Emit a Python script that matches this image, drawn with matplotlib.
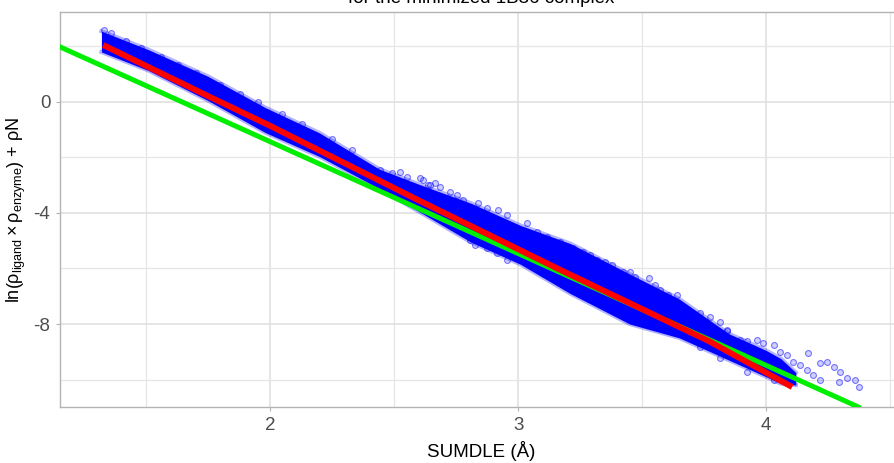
import matplotlib

matplotlib.use("Agg")
import matplotlib.pyplot as plt
from matplotlib.ticker import MultipleLocator

# dense core of the point cloud (upper / lower edge along SUMDLE)
band_x = [1.32, 1.51, 1.75, 1.98, 2.20, 2.44, 2.61, 2.81, 3.01, 3.21, 3.45, 3.65, 3.85, 4.00, 4.06, 4.12]
band_hi = [2.55, 1.88, 0.92, -0.20, -1.12, -2.42, -3.00, -3.65, -4.45, -5.10, -6.20, -7.10, -8.35, -8.95, -9.25, -9.75]
band_lo = [1.80, 1.13, 0.05, -1.10, -1.97, -3.12, -4.00, -5.05, -5.85, -6.90, -8.00, -8.50, -9.30, -9.90, -10.15, -10.20]

# sparse points around the edges of the cloud
pts_x = [
    2.444, 2.491, 2.524, 2.551, 2.605, 2.638, 2.665,
    2.618, 2.645, 2.685, 2.726, 2.753, 2.779, 2.840, 2.874, 2.921, 2.954,
    3.035, 3.075, 3.116, 3.169, 3.223, 3.263, 3.304,
    2.806, 2.827, 2.874, 2.914, 2.954,
    3.290, 3.317, 3.351, 3.378, 3.425, 3.452, 3.472, 3.526, 3.552, 3.573,
    3.606, 3.640, 3.626, 3.653, 3.680, 3.734, 3.714, 3.767, 3.815, 3.842,
    3.505, 3.599, 3.774, 3.841, 3.895, 3.922, 3.962, 3.989, 4.030, 4.056,
    4.083, 4.110, 4.137, 4.164, 4.171, 4.191, 4.218, 4.218, 4.245, 4.272,
    4.298, 4.325, 4.359, 4.376, 4.292,
    3.734, 3.815, 3.922, 4.030, 4.083,
    1.33, 1.36, 1.42, 1.48, 1.56, 1.63, 1.70, 1.80, 1.88, 1.95, 2.05, 2.13, 2.25, 2.33,
]
pts_y = [
    -2.45, -2.57, -2.51, -2.71, -2.75, -2.99, -2.93,
    -2.81, -2.99, -3.05, -3.23, -3.35, -3.53, -3.65, -3.83, -3.89, -4.07,
    -4.37, -4.67, -4.85, -5.03, -5.27, -5.39, -5.69,
    -4.97, -5.15, -5.27, -5.45, -5.69,
    -5.51, -5.69, -5.75, -5.87, -6.11, -6.11, -6.29, -6.35, -6.59, -6.77,
    -6.95, -6.95, -7.19, -7.32, -7.50, -7.61, -7.80, -8.04, -7.92, -8.22,
    -7.19, -7.38, -7.74, -8.27, -8.58, -8.63, -8.58, -8.70, -8.76, -9.00,
    -9.12, -9.36, -9.48, -9.66, -9.06, -9.84, -10.02, -9.42, -9.36, -9.54,
    -9.72, -9.96, -10.02, -10.26, -10.08,
    -8.82, -9.24, -9.72, -10.02, -10.14,
    2.60, 2.48, 2.20, 1.95, 1.62, 1.32, 1.05, 0.62, 0.28, 0.00, -0.45, -0.80, -1.35, -1.72,
]

# smoothed fit (red) and reference line (green)
fit_x = [1.327, 1.75, 2.0, 2.6, 3.17, 3.77, 4.105]
fit_y = [2.05, 0.21, -0.86, -3.55, -6.05, -8.62, -10.27]
ref_intercept = 6.63
ref_slope = -4.03

plt.rcParams["font.family"] = ["Liberation Sans", "DejaVu Sans"]
plt.rcParams["mathtext.fontset"] = "custom"
plt.rcParams["mathtext.rm"] = "Liberation Sans"
plt.rcParams["mathtext.it"] = "Liberation Sans"
plt.rcParams["axes.unicode_minus"] = False

fig = plt.figure(figsize=(8.95, 4.63), dpi=100)
ax = fig.add_axes([60 / 895, 56 / 463, 842 / 895, 395 / 463])

ax.fill_between(band_x, band_lo, band_hi, color="#0000ff", lw=0, zorder=2)
ax.plot(band_x, band_hi, color="#0000ff", alpha=0.3, lw=3, zorder=2)
ax.plot(band_x, band_lo, color="#0000ff", alpha=0.3, lw=3, zorder=2)
ax.scatter(pts_x, pts_y, s=18, facecolors=(0, 0, 1, 0.18),
           edgecolors=(0, 0, 1, 0.5), linewidths=0.8, zorder=3)

ax.axline((0, ref_intercept), slope=ref_slope, color="#00ee00", lw=3.6, zorder=4)
ax.plot(fit_x, fit_y, color="#ff0000", lw=4.3, solid_capstyle="butt", zorder=5)

ax.set_xlim(1.153, 4.548)
ax.set_ylim(-10.99, 3.24)
ax.xaxis.set_major_locator(MultipleLocator(1))
ax.xaxis.set_minor_locator(MultipleLocator(0.5))
ax.set_yticks([2, -2, -6, -10], minor=True)
ax.set_yticks([0, -4, -8])

ax.grid(which="major", color="#dedede", lw=1.1, zorder=0)
ax.grid(which="minor", color="#e6e6e6", lw=0.9, zorder=0)
ax.set_axisbelow(True)
for s in ax.spines.values():
    s.set_color("#b3b3b3")
    s.set_linewidth(1.0)
ax.tick_params(which="major", length=3, color="#b3b3b3", labelsize=13.5,
               labelcolor="#4d4d4d", pad=4)
ax.tick_params(which="minor", length=0)

ax.set_xlabel("SUMDLE (Å)", fontsize=13.5, labelpad=5)
ax.set_ylabel(r"ln$\left(\rho_{\mathrm{ligand}}\times\rho_{\mathrm{enzyme}}\right)$ + ρN",
              fontsize=13)
ax.yaxis.set_label_coords(-0.038, 0.5)

fig.text(481 / 895, 1 - 3 / 463, "for the minimized 1B36 complex",
         fontsize=13.5, ha="center", va="baseline")

fig.savefig("out.png", dpi=100)
